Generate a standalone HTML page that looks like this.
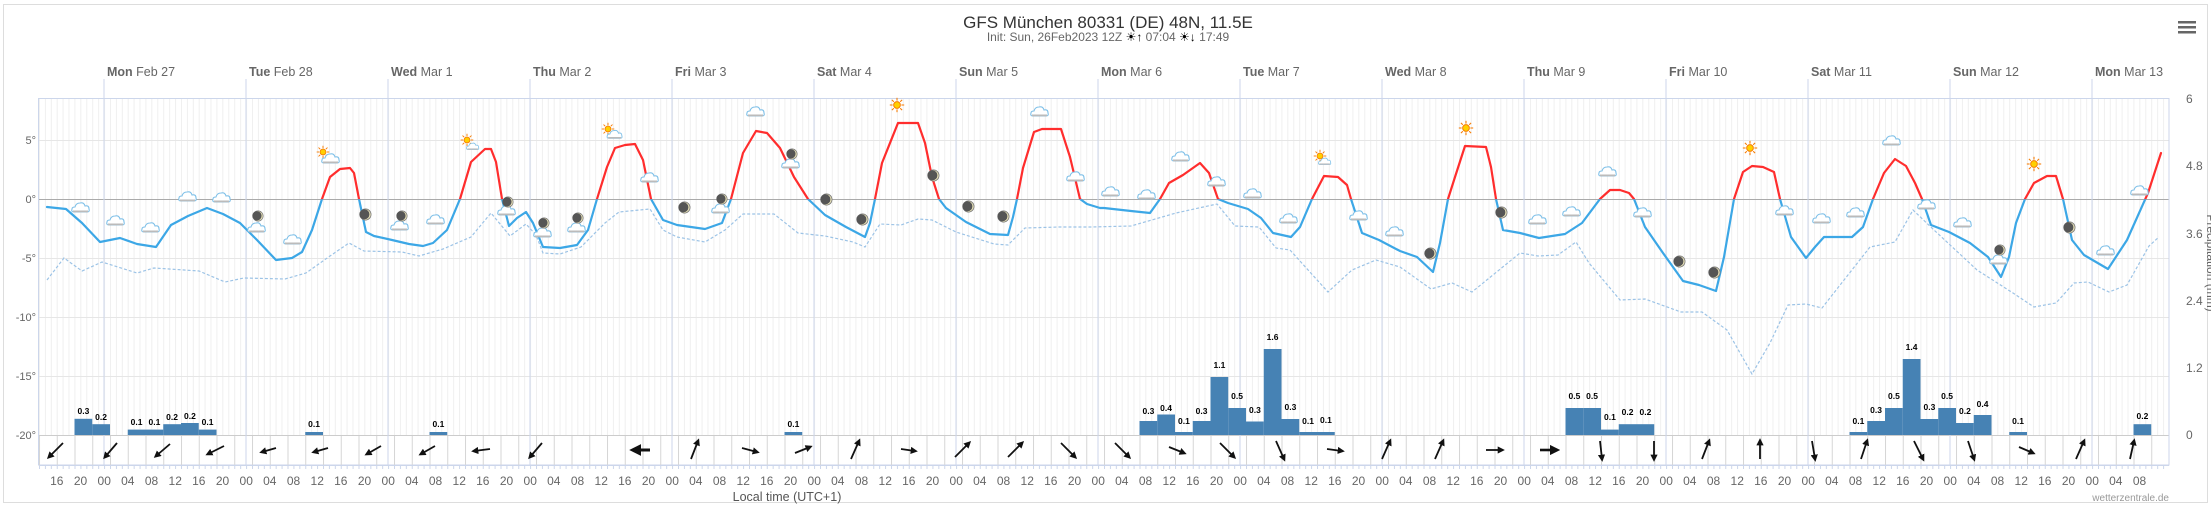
<!DOCTYPE html>
<html><head><meta charset="utf-8"><style>
html,body{margin:0;padding:0;background:#fff;}
svg{display:block;font-family:"Liberation Sans",sans-serif;}
</style></head><body>
<svg width="2211" height="508" viewBox="0 0 2211 508" xmlns="http://www.w3.org/2000/svg">
<defs>
<symbol id="cl" viewBox="0 0 20 14"><path d="M3 12 Q0 12 1 9 Q1 7 4 7 Q5 3 9 3 Q13 2 14 6 Q18 5 18 9 Q19 12 16 12 Z" fill="#fff" stroke="#7fc0e8" stroke-width="1.1"/><rect x="2" y="10.5" width="15" height="1.8" fill="#bbb"/></symbol>
<symbol id="sun" viewBox="0 0 20 20"><g stroke="#f77b00" stroke-width="1.3"><line x1="10" y1="1" x2="10" y2="4.5"/><line x1="10" y1="15.5" x2="10" y2="19"/><line x1="1" y1="10" x2="4.5" y2="10"/><line x1="15.5" y1="10" x2="19" y2="10"/><line x1="3.6" y1="3.6" x2="6" y2="6"/><line x1="14" y1="14" x2="16.4" y2="16.4"/><line x1="3.6" y1="16.4" x2="6" y2="14"/><line x1="14" y1="6" x2="16.4" y2="3.6"/></g><circle cx="10" cy="10" r="4.2" fill="#ffd000" stroke="#f77b00" stroke-width="1.2"/></symbol>
<symbol id="moon" viewBox="0 0 14 14"><circle cx="7" cy="7" r="6" fill="#e8e2b8" stroke="#777" stroke-width="0.8"/><circle cx="5.8" cy="6.8" r="5.4" fill="#555"/></symbol>
<clipPath id="above"><rect x="0" y="0" width="2211" height="199.3"/></clipPath>
<clipPath id="below"><rect x="0" y="199.3" width="2211" height="300"/></clipPath>
<marker id="ah" viewBox="0 0 10 10" refX="6" refY="5" markerWidth="4" markerHeight="4" orient="auto"><path d="M0 0 L10 5 L0 10 Z" fill="#111"/></marker>
<polyline id="t" fill="none" stroke-width="2.2" stroke-linejoin="round" stroke-linecap="round" points="47,207 66,209 82,223 100,242 120,238 137,244 156,247 171,225 188,216 207,208 223,214 240,223 257,240 276,260 292,258 302,252 312,230 322,199 330,177 340,169 350,168 354,173 359,199 366,232 374,236 392,240 409,244 423,246 433,243 447,230 460,199 471,162 485,149 491,149 496,162 502,199 509,226 517,218 526,212 533,223 543,247 560,248 577,245 588,230 597,199 607,167 615,148 625,145 635,144 643,160 651,199 663,220 677,225 705,229 722,223 731,199 743,153 756,131 767,133 780,148 794,177 808,199 825,215 846,227 865,237 870,223 875,199 882,163 898,123 918,123 925,143 932,177 939,199 946,208 966,222 990,234 1008,235 1013,217 1017,199 1023,168 1034,132 1042,129 1061,129 1070,157 1080,199 1087,204 1100,208 1104,208 1131,211 1150,213 1160,199 1169,183 1183,175 1200,163 1209,173 1218,199 1228,203 1248,209 1261,218 1273,233 1291,237 1300,227 1312,199 1324,176 1338,177 1347,185 1351,199 1362,233 1379,240 1400,251 1417,257 1433,272 1440,243 1448,199 1455,177 1465,146 1486,147 1491,167 1496,199 1503,230 1520,233 1539,238 1565,234 1582,223 1600,199 1610,190 1620,190 1629,193 1634,199 1645,227 1663,253 1683,281 1699,285 1716,291 1724,257 1734,199 1743,172 1752,166 1763,167 1774,172 1780,199 1791,237 1806,258 1815,247 1824,237 1852,237 1863,227 1873,199 1884,173 1895,159 1906,166 1915,183 1922,199 1931,225 1949,232 1970,243 1988,257 2001,277 2009,257 2016,223 2025,199 2034,183 2047,176 2056,176 2063,199 2072,240 2084,255 2108,269 2127,240 2148,193 2161,153"/>
<pattern id="hp" x="39" y="0" width="5.9167" height="10" patternUnits="userSpaceOnUse"><rect x="0" y="0" width="0.8" height="10" fill="#ececec"/></pattern>
<pattern id="wp" x="39" y="0" width="17.75" height="10" patternUnits="userSpaceOnUse"><rect x="0" y="0" width="1" height="10" fill="#d6d6d6"/></pattern>
<pattern id="tp" x="39" y="0" width="5.9167" height="4" patternUnits="userSpaceOnUse"><rect x="0" y="0" width="1" height="4" fill="#ccd6eb"/></pattern>
</defs>
<rect x="3.5" y="4.5" width="2204" height="498" fill="#fff" stroke="#ddd" stroke-width="1"/>
<text x="1108" y="28" text-anchor="middle" font-size="17" fill="#333">GFS München 80331 (DE) 48N, 11.5E</text>
<text x="1108" y="41" text-anchor="middle" font-size="12" fill="#666">Init: Sun, 26Feb2023 12Z <tspan fill="#000">☀↑</tspan> 07:04 <tspan fill="#000">☀↓</tspan> 17:49</text>
<g fill="#666"><rect x="2178" y="21" width="18" height="2.5"/><rect x="2178" y="26" width="18" height="2.5"/><rect x="2178" y="31" width="18" height="2.5"/></g>
<rect x="39" y="98" width="2130" height="337" fill="url(#hp)"/>
<g stroke="#e6e6e6" stroke-width="1">
<line x1="39" y1="140.5" x2="2169" y2="140.5"/><line x1="39" y1="258.5" x2="2169" y2="258.5"/><line x1="39" y1="317.5" x2="2169" y2="317.5"/><line x1="39" y1="376.5" x2="2169" y2="376.5"/>
</g>
<line x1="39" y1="199.5" x2="2169" y2="199.5" stroke="#aaa" stroke-width="1"/>
<line x1="39" y1="435.5" x2="2169" y2="435.5" stroke="#ccc" stroke-width="1"/>
<g stroke="#ccd6eb" stroke-width="1">
<line x1="104" y1="79" x2="104" y2="465"/><line x1="246" y1="79" x2="246" y2="465"/><line x1="388" y1="79" x2="388" y2="465"/><line x1="530" y1="79" x2="530" y2="465"/><line x1="672" y1="79" x2="672" y2="465"/><line x1="814" y1="79" x2="814" y2="465"/><line x1="956" y1="79" x2="956" y2="465"/><line x1="1098" y1="79" x2="1098" y2="465"/><line x1="1240" y1="79" x2="1240" y2="465"/><line x1="1382" y1="79" x2="1382" y2="465"/><line x1="1524" y1="79" x2="1524" y2="465"/><line x1="1666" y1="79" x2="1666" y2="465"/><line x1="1808" y1="79" x2="1808" y2="465"/><line x1="1950" y1="79" x2="1950" y2="465"/><line x1="2092" y1="79" x2="2092" y2="465"/>
<rect x="38.5" y="98.5" width="2130.5" height="366.5" fill="none"/>
</g>
<g font-size="12.5" fill="#666">
<text x="107" y="76"><tspan font-weight="bold">Mon</tspan> Feb 27</text>
<text x="249" y="76"><tspan font-weight="bold">Tue</tspan> Feb 28</text>
<text x="391" y="76"><tspan font-weight="bold">Wed</tspan> Mar 1</text>
<text x="533" y="76"><tspan font-weight="bold">Thu</tspan> Mar 2</text>
<text x="675" y="76"><tspan font-weight="bold">Fri</tspan> Mar 3</text>
<text x="817" y="76"><tspan font-weight="bold">Sat</tspan> Mar 4</text>
<text x="959" y="76"><tspan font-weight="bold">Sun</tspan> Mar 5</text>
<text x="1101" y="76"><tspan font-weight="bold">Mon</tspan> Mar 6</text>
<text x="1243" y="76"><tspan font-weight="bold">Tue</tspan> Mar 7</text>
<text x="1385" y="76"><tspan font-weight="bold">Wed</tspan> Mar 8</text>
<text x="1527" y="76"><tspan font-weight="bold">Thu</tspan> Mar 9</text>
<text x="1669" y="76"><tspan font-weight="bold">Fri</tspan> Mar 10</text>
<text x="1811" y="76"><tspan font-weight="bold">Sat</tspan> Mar 11</text>
<text x="1953" y="76"><tspan font-weight="bold">Sun</tspan> Mar 12</text>
<text x="2095" y="76"><tspan font-weight="bold">Mon</tspan> Mar 13</text>
</g>
<g font-size="11" fill="#666" text-anchor="end">
<text x="36" y="144">5°</text><text x="36" y="203">0°</text><text x="36" y="262">-5°</text><text x="36" y="321">-10°</text><text x="36" y="380">-15°</text><text x="36" y="439">-20°</text>
</g>
<g font-size="12" fill="#666">
<text x="2186" y="103">6</text><text x="2186" y="170">4.8</text><text x="2186" y="238">3.6</text><text x="2186" y="305">2.4</text><text x="2186" y="372">1.2</text><text x="2186" y="439">0</text>
<text transform="translate(2207,263) rotate(90)" text-anchor="middle" font-size="12">Precipitation (mm)</text>
</g>
<g fill="#4682b4">
<rect x="74.5" y="418.8" width="17.75" height="16.2"/><rect x="92.25" y="424.2" width="17.75" height="10.8"/>
<rect x="127.75" y="429.6" width="17.75" height="5.4"/><rect x="145.5" y="429.6" width="17.75" height="5.4"/><rect x="163.25" y="424.2" width="17.75" height="10.8"/><rect x="181" y="423" width="17.75" height="12"/><rect x="198.75" y="429.6" width="17.75" height="5.4"/>
<rect x="305.25" y="432" width="17.75" height="3"/><rect x="429.5" y="432" width="17.75" height="3"/><rect x="784.5" y="432" width="17.75" height="3"/>
<rect x="1139.5" y="421" width="17.75" height="14"/><rect x="1157.25" y="414.5" width="17.75" height="20.5"/><rect x="1175" y="432" width="17.75" height="3"/><rect x="1192.75" y="421" width="17.75" height="14"/><rect x="1210.5" y="377" width="17.75" height="58"/><rect x="1228.25" y="408" width="17.75" height="27"/><rect x="1246" y="421.5" width="17.75" height="13.5"/><rect x="1263.75" y="349" width="17.75" height="86"/><rect x="1281.5" y="419" width="17.75" height="16"/><rect x="1299.25" y="432" width="17.75" height="3"/><rect x="1317" y="432" width="17.75" height="3"/>
<rect x="1565.5" y="408" width="17.75" height="27"/><rect x="1583.25" y="408" width="17.75" height="27"/><rect x="1601" y="429.6" width="17.75" height="5.4"/><rect x="1618.75" y="424.2" width="17.75" height="10.8"/><rect x="1636.5" y="424.2" width="17.75" height="10.8"/>
<rect x="1849.5" y="432" width="17.75" height="3"/><rect x="1867.25" y="421" width="17.75" height="14"/><rect x="1885" y="408" width="17.75" height="27"/><rect x="1902.75" y="359" width="17.75" height="76"/><rect x="1920.5" y="419" width="17.75" height="16"/><rect x="1938.25" y="408" width="17.75" height="27"/><rect x="1956" y="423" width="17.75" height="12"/><rect x="1973.75" y="415" width="17.75" height="20"/>
<rect x="2009.25" y="432" width="17.75" height="3"/><rect x="2133.5" y="424.2" width="17.75" height="10.8"/>
</g>
<g font-size="8.5" font-weight="bold" fill="#000" text-anchor="middle">
<text x="83.4" y="414">0.3</text><text x="101.1" y="420">0.2</text><text x="136.6" y="425">0.1</text><text x="154.4" y="425">0.1</text><text x="172.1" y="420">0.2</text><text x="189.9" y="419">0.2</text><text x="207.6" y="425">0.1</text>
<text x="314.1" y="427">0.1</text><text x="438.4" y="427">0.1</text><text x="793.4" y="427">0.1</text>
<text x="1148.4" y="414">0.3</text><text x="1166.1" y="411">0.4</text><text x="1183.9" y="424">0.1</text><text x="1201.6" y="414">0.3</text><text x="1219.4" y="368">1.1</text><text x="1237.1" y="399">0.5</text><text x="1254.9" y="413">0.3</text><text x="1272.6" y="340">1.6</text><text x="1290.4" y="410">0.3</text><text x="1308.1" y="424">0.1</text><text x="1325.9" y="423">0.1</text>
<text x="1574.4" y="399">0.5</text><text x="1592.1" y="399">0.5</text><text x="1609.9" y="420">0.1</text><text x="1627.6" y="415">0.2</text><text x="1645.4" y="415">0.2</text>
<text x="1858.4" y="424">0.1</text><text x="1876.1" y="413">0.3</text><text x="1893.9" y="399">0.5</text><text x="1911.6" y="350">1.4</text><text x="1929.4" y="410">0.3</text><text x="1947.1" y="399">0.5</text><text x="1964.9" y="414">0.2</text><text x="1982.6" y="407">0.4</text>
<text x="2018.1" y="424">0.1</text><text x="2142.4" y="419">0.2</text>
</g>
<polyline fill="none" stroke="#9cc3e6" stroke-width="1.2" stroke-dasharray="3,2" points="47,280 64,258 82,271 102,262 137,273 154,268 199,271 225,282 244,278 285,279 306,273 330,256 349,243 364,251 402,252 419,256 443,249 471,237 491,213 510,236 526,224 536,235 543,253 560,254 581,247 605,223 619,212 650,209 663,230 677,237 705,242 725,230 743,214 774,214 798,233 825,236 853,242 865,247 880,224 901,225 918,219 932,220 956,232 994,244 1008,245 1025,228 1059,227 1090,227 1131,226 1176,213 1217,204 1235,226 1259,227 1276,248 1290,250 1328,292 1352,270 1376,260 1400,267 1431,289 1452,283 1472,292 1520,253 1538,256 1558,255 1576,242 1589,263 1620,300 1645,299 1681,312 1702,312 1727,330 1752,374 1770,343 1788,305 1806,304 1822,308 1870,247 1895,242 1913,210 1934,230 1977,270 2013,293 2034,307 2056,303 2074,283 2088,282 2109,292 2127,285 2149,246 2159,237"/>
<use href="#t" stroke="#ff2d2d" clip-path="url(#above)"/>
<use href="#t" stroke="#3ca7e6" clip-path="url(#below)"/>
<g>
<use href="#cl" x="71" y="200" width="20" height="14"/><use href="#cl" x="106" y="213" width="20" height="14"/><use href="#cl" x="141" y="220" width="20" height="14"/><use href="#cl" x="178" y="189" width="20" height="14"/><use href="#cl" x="212" y="190" width="20" height="14"/>
<use href="#cl" x="247" y="220" width="20" height="14"/><use href="#moon" x="252" y="210" width="12" height="12"/>
<use href="#cl" x="283" y="232" width="20" height="14"/>
<use href="#sun" x="316" y="145" width="14" height="14"/><use href="#cl" x="321" y="151" width="20" height="14"/>
<use href="#moon" x="359" y="208" width="13" height="13"/>
<use href="#cl" x="390" y="218" width="20" height="14"/><use href="#moon" x="396" y="210" width="12" height="12"/>
<use href="#cl" x="426" y="212" width="20" height="14"/>
<use href="#sun" x="460" y="133" width="14" height="14"/><use href="#cl" x="466" y="141" width="14" height="10"/>
<use href="#cl" x="497" y="203" width="20" height="14"/><use href="#moon" x="502" y="196" width="12" height="12"/>
<use href="#cl" x="533" y="225" width="20" height="14"/><use href="#moon" x="538" y="217" width="12" height="12"/>
<use href="#cl" x="567" y="220" width="20" height="14"/><use href="#moon" x="572" y="212" width="12" height="12"/>
<use href="#sun" x="601" y="122" width="14" height="14"/><use href="#cl" x="606" y="128" width="18" height="12"/>
<use href="#cl" x="640" y="170" width="20" height="14"/>
<use href="#moon" x="678" y="201" width="13" height="13"/>
<use href="#cl" x="711" y="201" width="20" height="14"/><use href="#moon" x="716" y="193" width="12" height="12"/>
<use href="#cl" x="746" y="104" width="20" height="14"/>
<use href="#cl" x="781" y="156" width="20" height="14"/><use href="#moon" x="786" y="148" width="12" height="12"/>
<use href="#moon" x="820" y="193" width="13" height="13"/><use href="#moon" x="856" y="213" width="13" height="13"/>
<use href="#sun" x="889" y="97" width="16" height="16"/>
<use href="#moon" x="927" y="169" width="13" height="13"/><use href="#moon" x="962" y="200" width="13" height="13"/><use href="#moon" x="997" y="210" width="13" height="13"/>
<use href="#cl" x="1030" y="104" width="20" height="14"/><use href="#cl" x="1066" y="169" width="20" height="14"/>
<use href="#cl" x="1101" y="184" width="20" height="14"/><use href="#cl" x="1137" y="187" width="20" height="14"/><use href="#cl" x="1171" y="149" width="20" height="14"/><use href="#cl" x="1207" y="174" width="20" height="14"/><use href="#cl" x="1243" y="186" width="20" height="14"/><use href="#cl" x="1279" y="211" width="20" height="14"/>
<use href="#sun" x="1313" y="149" width="14" height="14"/><use href="#cl" x="1318" y="156" width="14" height="10"/>
<use href="#cl" x="1349" y="208" width="20" height="14"/><use href="#cl" x="1385" y="224" width="20" height="14"/>
<use href="#moon" x="1424" y="247" width="13" height="13"/><use href="#sun" x="1458" y="120" width="16" height="16"/><use href="#moon" x="1495" y="206" width="13" height="13"/>
<use href="#cl" x="1528" y="212" width="20" height="14"/><use href="#cl" x="1562" y="204" width="20" height="14"/><use href="#cl" x="1598" y="164" width="20" height="14"/>
<use href="#cl" x="1633" y="205" width="20" height="14"/>
<use href="#moon" x="1673" y="255" width="13" height="13"/><use href="#moon" x="1708" y="266" width="13" height="13"/>
<use href="#sun" x="1742" y="140" width="16" height="16"/>
<use href="#cl" x="1775" y="203" width="20" height="14"/><use href="#cl" x="1812" y="211" width="20" height="14"/><use href="#cl" x="1846" y="205" width="20" height="14"/><use href="#cl" x="1882" y="133" width="20" height="14"/><use href="#cl" x="1917" y="197" width="20" height="14"/><use href="#cl" x="1953" y="215" width="20" height="14"/>
<use href="#cl" x="1989" y="252" width="20" height="14"/><use href="#moon" x="1994" y="244" width="12" height="12"/>
<use href="#sun" x="2026" y="156" width="16" height="16"/><use href="#moon" x="2063" y="221" width="13" height="13"/>
<use href="#cl" x="2096" y="243" width="20" height="14"/><use href="#cl" x="2130" y="183" width="20" height="14"/>
</g>
<rect x="39" y="436" width="2130" height="29" fill="url(#wp)"/>
<line x1="39" y1="465.5" x2="2169" y2="465.5" stroke="#ccd6eb"/>
<rect x="39" y="466" width="2130" height="3" fill="url(#tp)"/>
<g stroke="#111" stroke-width="1.8" marker-end="url(#ah)">
<line x1="63" y1="443" x2="49" y2="457"/><line x1="117" y1="443" x2="105" y2="457"/><line x1="170" y1="444" x2="156" y2="456"/><line x1="224" y1="446" x2="208" y2="454"/><line x1="276" y1="448" x2="262" y2="452"/><line x1="328" y1="448" x2="314" y2="452"/><line x1="381" y1="446" x2="367" y2="454"/><line x1="435" y1="446" x2="421" y2="454"/><line x1="490" y1="449" x2="474" y2="451"/><line x1="542" y1="443" x2="530" y2="457"/>
<line x1="650" y1="450" x2="634" y2="450" stroke-width="3"/><line x1="691" y1="459" x2="698" y2="441"/><line x1="742" y1="448" x2="757" y2="452"/><line x1="795" y1="453" x2="810" y2="447"/><line x1="851" y1="459" x2="859" y2="441"/><line x1="901" y1="449" x2="915" y2="451"/><line x1="955" y1="457" x2="969" y2="443"/><line x1="1008" y1="457" x2="1022" y2="443"/><line x1="1061" y1="443" x2="1075" y2="457"/>
<line x1="1115" y1="443" x2="1129" y2="457"/><line x1="1169" y1="447" x2="1184" y2="453"/><line x1="1220" y1="443" x2="1234" y2="457"/><line x1="1276" y1="441" x2="1284" y2="459"/><line x1="1327" y1="449" x2="1342" y2="451"/><line x1="1382" y1="459" x2="1390" y2="441"/><line x1="1435" y1="459" x2="1443" y2="441"/><line x1="1486" y1="450" x2="1502" y2="450"/><line x1="1540" y1="450" x2="1556" y2="450" stroke-width="2.6"/><line x1="1600" y1="441" x2="1602" y2="459"/>
<line x1="1654" y1="441" x2="1654" y2="459"/><line x1="1702" y1="459" x2="1709" y2="441"/><line x1="1760" y1="459" x2="1760" y2="441"/><line x1="1812" y1="441" x2="1815" y2="459"/><line x1="1861" y1="459" x2="1867" y2="441"/><line x1="1914" y1="441" x2="1923" y2="459"/><line x1="1968" y1="441" x2="1974" y2="459"/><line x1="2019" y1="447" x2="2033" y2="453"/><line x1="2076" y1="459" x2="2084" y2="441"/><line x1="2130" y1="459" x2="2134" y2="441"/>
</g>
<g font-size="12" fill="#666" text-anchor="middle">
<text x="56.8" y="485">16</text><text x="80.5" y="485">20</text><text x="104.2" y="485">00</text><text x="127.8" y="485">04</text><text x="151.5" y="485">08</text><text x="175.2" y="485">12</text><text x="198.8" y="485">16</text><text x="222.5" y="485">20</text><text x="246.2" y="485">00</text><text x="269.8" y="485">04</text><text x="293.5" y="485">08</text><text x="317.2" y="485">12</text><text x="340.8" y="485">16</text><text x="364.5" y="485">20</text><text x="388.2" y="485">00</text><text x="411.8" y="485">04</text><text x="435.5" y="485">08</text><text x="459.2" y="485">12</text><text x="482.8" y="485">16</text><text x="506.5" y="485">20</text><text x="530.2" y="485">00</text><text x="553.8" y="485">04</text><text x="577.5" y="485">08</text><text x="601.2" y="485">12</text><text x="624.8" y="485">16</text><text x="648.5" y="485">20</text><text x="672.2" y="485">00</text><text x="695.8" y="485">04</text><text x="719.5" y="485">08</text><text x="743.2" y="485">12</text><text x="766.8" y="485">16</text><text x="790.5" y="485">20</text><text x="814.2" y="485">00</text><text x="837.8" y="485">04</text><text x="861.5" y="485">08</text><text x="885.2" y="485">12</text><text x="908.8" y="485">16</text><text x="932.5" y="485">20</text><text x="956.2" y="485">00</text><text x="979.8" y="485">04</text><text x="1003.5" y="485">08</text><text x="1027.2" y="485">12</text><text x="1050.8" y="485">16</text><text x="1074.5" y="485">20</text><text x="1098.2" y="485">00</text><text x="1121.8" y="485">04</text><text x="1145.5" y="485">08</text><text x="1169.2" y="485">12</text><text x="1192.8" y="485">16</text><text x="1216.5" y="485">20</text><text x="1240.2" y="485">00</text><text x="1263.8" y="485">04</text><text x="1287.5" y="485">08</text><text x="1311.2" y="485">12</text><text x="1334.8" y="485">16</text><text x="1358.5" y="485">20</text><text x="1382.2" y="485">00</text><text x="1405.8" y="485">04</text><text x="1429.5" y="485">08</text><text x="1453.2" y="485">12</text><text x="1476.8" y="485">16</text><text x="1500.5" y="485">20</text><text x="1524.2" y="485">00</text><text x="1547.8" y="485">04</text><text x="1571.5" y="485">08</text><text x="1595.2" y="485">12</text><text x="1618.8" y="485">16</text><text x="1642.5" y="485">20</text><text x="1666.2" y="485">00</text><text x="1689.8" y="485">04</text><text x="1713.5" y="485">08</text><text x="1737.2" y="485">12</text><text x="1760.8" y="485">16</text><text x="1784.5" y="485">20</text><text x="1808.2" y="485">00</text><text x="1831.8" y="485">04</text><text x="1855.5" y="485">08</text><text x="1879.2" y="485">12</text><text x="1902.8" y="485">16</text><text x="1926.5" y="485">20</text><text x="1950.2" y="485">00</text><text x="1973.8" y="485">04</text><text x="1997.5" y="485">08</text><text x="2021.2" y="485">12</text><text x="2044.8" y="485">16</text><text x="2068.5" y="485">20</text><text x="2092.2" y="485">00</text><text x="2115.8" y="485">04</text><text x="2139.5" y="485">08</text>
</g>
<text x="787" y="501" text-anchor="middle" font-size="12.5" fill="#555">Local time (UTC+1)</text>
<text x="2169" y="501" text-anchor="end" font-size="10" fill="#999">wetterzentrale.de</text>
</svg>
</body></html>
